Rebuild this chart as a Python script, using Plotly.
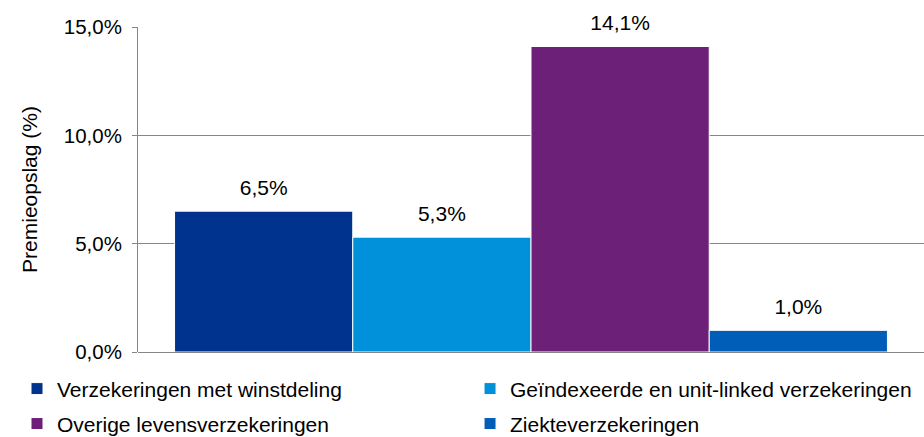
import plotly.graph_objects as go

category = ["Premieopslag"]
series_names = [
    "Verzekeringen met winstdeling",
    "Geïndexeerde en unit-linked verzekeringen",
    "Overige levensverzekeringen",
    "Ziekteverzekeringen",
]
series_values = [6.5, 5.3, 14.1, 1.0]
colors = ["#00338D", "#0091DA", "#6D2077", "#005EB8"]
y_ticks = [0, 5, 10, 15]
y_tick_labels = ["0,0%", "5,0%", "10,0%", "15,0%"]
legend_ids = ["legend", "legend2", "legend3", "legend4"]

FONT = "Liberation Sans, Arial, sans-serif"
FS = 21

fig = go.Figure()
for name, val, col, lg in zip(series_names, series_values, colors, legend_ids):
    fig.add_trace(go.Bar(
        x=category, y=[val], name=name,
        marker=dict(color=col, line=dict(color="white", width=1)),
        legend=lg, hoverinfo="skip",
    ))
for name, val in zip(series_names, series_values):
    fig.add_trace(go.Scatter(
        x=category, y=[val], mode="markers+text",
        text=[f"{val:.1f}%".replace(".", ",")], textposition="top center",
        textfont=dict(family=FONT, size=FS, color="#000000"),
        marker=dict(size=16, opacity=0),
        showlegend=False, hoverinfo="skip", cliponaxis=False,
    ))

leg_common = dict(orientation="h", xref="container", yref="container",
                  xanchor="left", yanchor="middle",
                  font=dict(size=FS), bgcolor="rgba(0,0,0,0)")
col_x = [0.0184, 0.5087]
row_y = [0.110, 0.030]

fig.update_layout(
    width=924, height=437,
    margin=dict(l=138, r=0, t=27, b=85, autoexpand=False),
    paper_bgcolor="white", plot_bgcolor="white",
    barmode="group", bargap=0.093, bargroupgap=0,
    scattermode="group", scattergap=0.093,
    separators=",.",
    font=dict(family=FONT, size=FS, color="#000000"),
    xaxis=dict(showticklabels=False, showgrid=False, zeroline=False,
               showline=False, ticks="", automargin=False),
    yaxis=dict(range=[0, 15], tickvals=y_ticks, ticktext=y_tick_labels,
               automargin=False,
               showgrid=True, gridcolor="#868686", gridwidth=1,
               zeroline=True, zerolinecolor="#868686", zerolinewidth=1,
               showline=True, linecolor="#868686", linewidth=1,
               ticks="outside", ticklen=5, tickcolor="#868686",
               ticklabelstandoff=6,
               title=dict(text="Premieopslag (%)", font=dict(size=FS), standoff=20),
               tickfont=dict(size=20.5)),
    legend=dict(x=col_x[0], y=row_y[0], **leg_common),
    legend2=dict(x=col_x[1], y=row_y[0], **leg_common),
    legend3=dict(x=col_x[0], y=row_y[1], **leg_common),
    legend4=dict(x=col_x[1], y=row_y[1], **leg_common),
)

fig.write_html("out.html", config={"displayModeBar": False},
               post_script="document.body.style.margin='0';")
